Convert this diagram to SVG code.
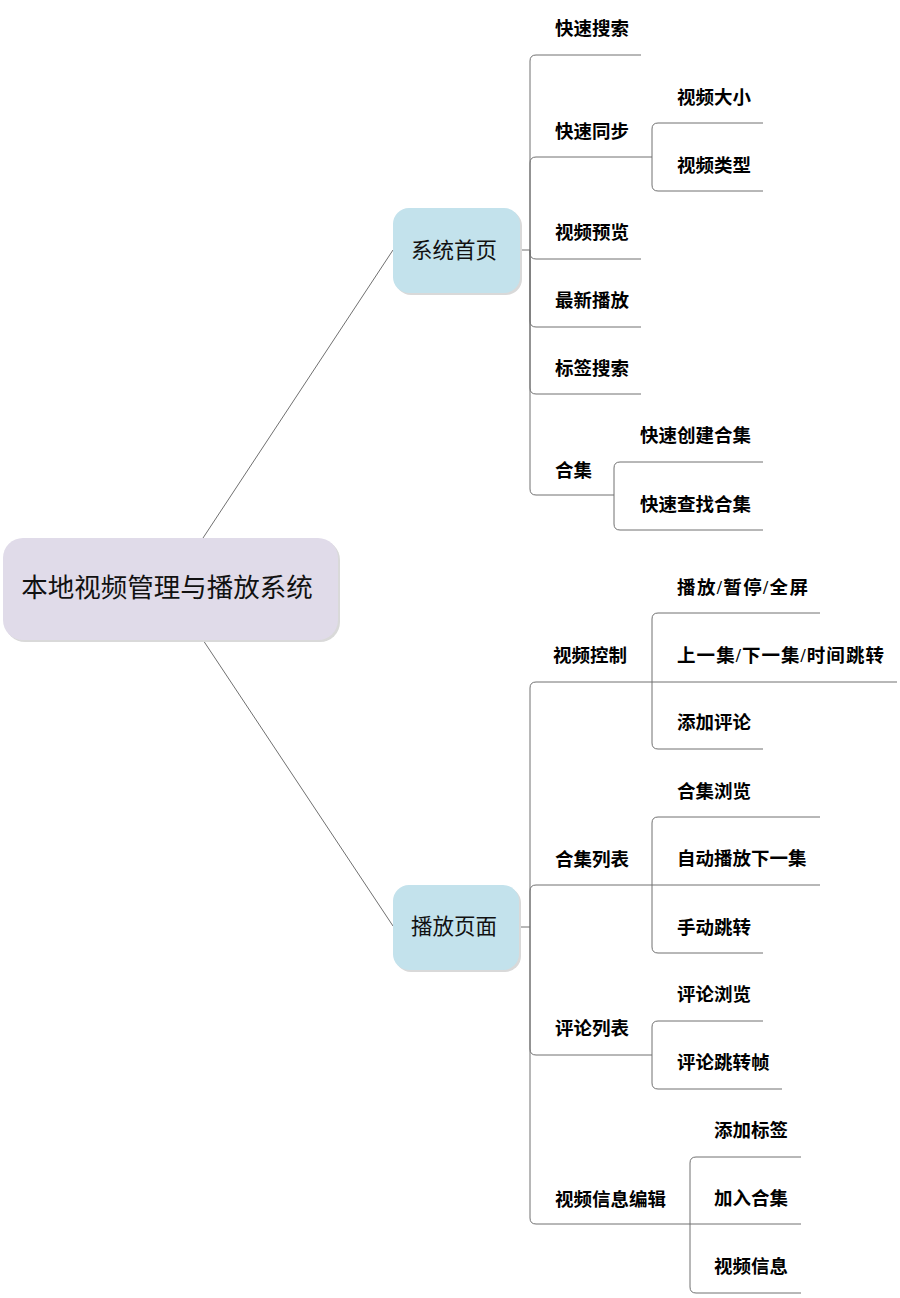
<svg xmlns="http://www.w3.org/2000/svg" width="900" height="1298" viewBox="0 0 900 1298">
<style>
.c{fill:none;stroke:#707070;stroke-width:1}
.t{font-family:"Liberation Serif","Noto Sans CJK SC",serif;font-weight:bold;font-size:18.5px;fill:#000}
.n{font-family:"Noto Sans CJK SC",sans-serif;font-size:21.5px;fill:#111;text-anchor:middle}
.r{font-family:"Noto Sans CJK SC",sans-serif;font-size:26.5px;fill:#111;text-anchor:middle}
.sh{fill:#d9d9d9}
</style>
<rect width="900" height="1298" fill="#fff"/>
<g id="connectors" class="c">
<path d="M203,538 L393,250"/>
<path d="M203,640 L393,926"/>
<path d="M520,250 H530"/>
<path d="M530,250 V61 Q530,55 536,55 H641"/>
<path d="M530,250 V163 Q530,157 536,157 H652"/>
<path d="M530,250 V253 Q530,259 536,259 H641"/>
<path d="M530,250 V321 Q530,327 536,327 H641"/>
<path d="M530,250 V388 Q530,394 536,394 H641"/>
<path d="M530,250 V489 Q530,495 536,495 H614"/>
<path d="M652,157 V129 Q652,123 658,123 H763"/>
<path d="M652,157 V185 Q652,191 658,191 H763"/>
<path d="M614,495 V468 Q614,462 620,462 H763"/>
<path d="M614,495 V524 Q614,530 620,530 H763"/>
<path d="M520,927 H530"/>
<path d="M530,927 V688 Q530,682 536,682 H652"/>
<path d="M530,927 V891 Q530,885 536,885 H652"/>
<path d="M530,927 V1049 Q530,1055 536,1055 H652"/>
<path d="M530,927 V1218 Q530,1224 536,1224 H690"/>
<path d="M652,682 V619 Q652,613 658,613 H820"/>
<path d="M652,682 H897"/>
<path d="M652,682 V743 Q652,749 658,749 H763"/>
<path d="M652,885 V823 Q652,817 658,817 H820"/>
<path d="M652,885 H820"/>
<path d="M652,885 V947 Q652,953 658,953 H763"/>
<path d="M652,1055 V1027 Q652,1021 658,1021 H763"/>
<path d="M652,1055 V1083 Q652,1089 658,1089 H782"/>
<path d="M690,1224 V1163 Q690,1157 696,1157 H801"/>
<path d="M690,1224 H801"/>
<path d="M690,1224 V1287 Q690,1293 696,1293 H801"/>
</g>
<g id="root">
<rect class="sh" x="5" y="540" width="335" height="102" rx="20"/>
<rect x="3" y="538" width="335" height="102" rx="20" fill="#e0dbe9"/>
<text class="r" x="167" y="597">本地视频管理与播放系统</text>
</g>
<g id="home">
<rect class="sh" x="395" y="210" width="127" height="85" rx="16"/>
<rect x="393" y="208" width="127" height="85" rx="16" fill="#c3e2ec"/>
<text class="n" x="454" y="258">系统首页</text>
</g>
<g id="play">
<rect class="sh" x="395" y="887" width="126" height="85" rx="16"/>
<rect x="393" y="885" width="126" height="85" rx="16" fill="#c3e2ec"/>
<text class="n" x="454" y="934">播放页面</text>
</g>
<g id="n1"><text class="t" x="555" y="35">快速搜索</text></g>
<g id="n2"><text class="t" x="555" y="138">快速同步</text></g>
<g id="n2a"><text class="t" x="677" y="104">视频大小</text></g>
<g id="n2b"><text class="t" x="677" y="172">视频类型</text></g>
<g id="n3"><text class="t" x="555" y="239">视频预览</text></g>
<g id="n4"><text class="t" x="555" y="307">最新播放</text></g>
<g id="n5"><text class="t" x="555" y="375">标签搜索</text></g>
<g id="n6"><text class="t" x="555" y="477">合集</text></g>
<g id="n6a"><text class="t" x="640" y="442">快速创建合集</text></g>
<g id="n6b"><text class="t" x="640" y="511">快速查找合集</text></g>
<g id="p1"><text class="t" x="553" y="662">视频控制</text></g>
<g id="p1a"><text class="t" x="677" y="594" textLength="131" lengthAdjust="spacing">播放/暂停/全屏</text></g>
<g id="p1b"><text class="t" x="677" y="662" textLength="207" lengthAdjust="spacing">上一集/下一集/时间跳转</text></g>
<g id="p1c"><text class="t" x="677" y="729">添加评论</text></g>
<g id="p2"><text class="t" x="555" y="866">合集列表</text></g>
<g id="p2a"><text class="t" x="677" y="798">合集浏览</text></g>
<g id="p2b"><text class="t" x="677" y="865">自动播放下一集</text></g>
<g id="p2c"><text class="t" x="677" y="934">手动跳转</text></g>
<g id="p3"><text class="t" x="555" y="1035">评论列表</text></g>
<g id="p3a"><text class="t" x="677" y="1001">评论浏览</text></g>
<g id="p3b"><text class="t" x="677" y="1069">评论跳转帧</text></g>
<g id="p4"><text class="t" x="555" y="1206">视频信息编辑</text></g>
<g id="p4a"><text class="t" x="714" y="1137">添加标签</text></g>
<g id="p4b"><text class="t" x="714" y="1205">加入合集</text></g>
<g id="p4c"><text class="t" x="714" y="1273">视频信息</text></g>
</svg>
